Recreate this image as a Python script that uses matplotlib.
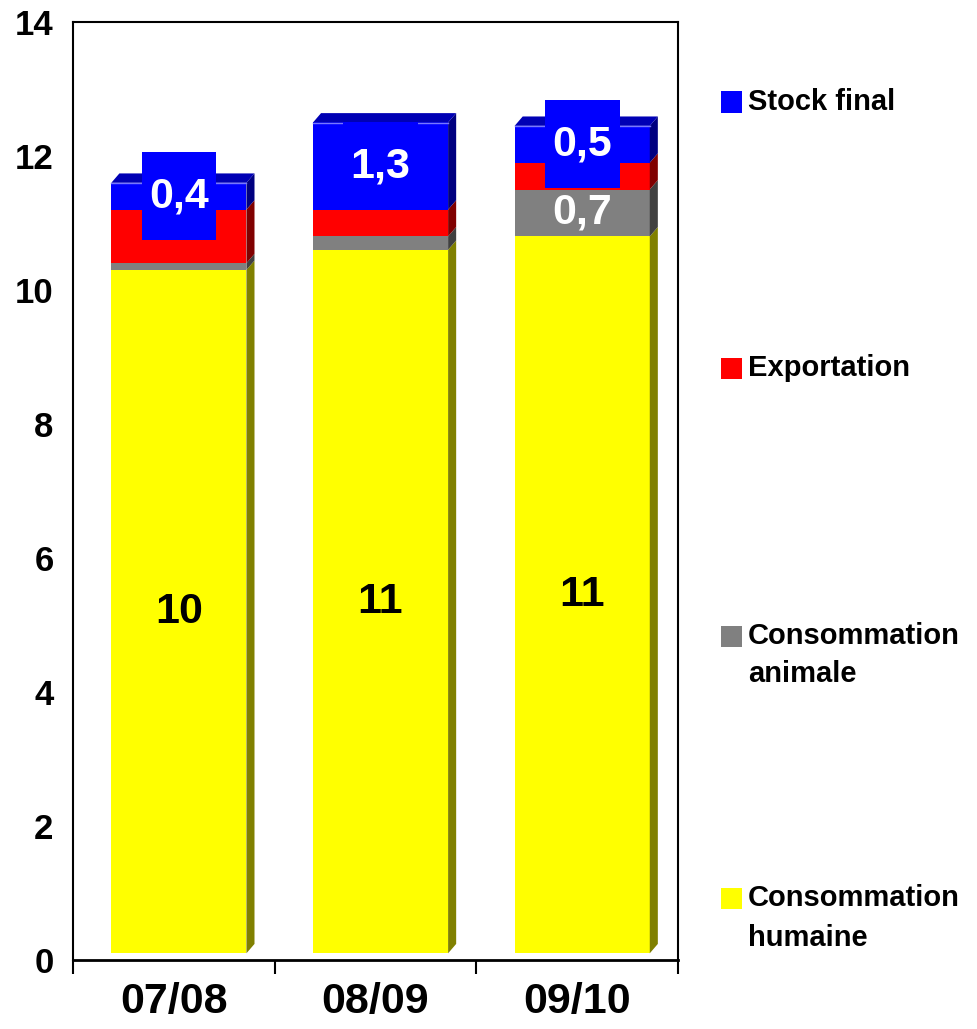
import matplotlib
matplotlib.use("Agg")
import matplotlib.pyplot as plt
from matplotlib.patches import Polygon, Rectangle

plt.rcParams["font.family"] = ["Liberation Sans", "DejaVu Sans"]
plt.rcParams["font.weight"] = "bold"

# -*- data (millions t)
campagnes = ["07/08", "08/09", "09/10"]
conso_humaine = [10.2, 10.5, 10.7]
conso_animale = [0.1, 0.2, 0.7]
exportation = [0.8, 0.4, 0.4]
stock_final = [0.4, 1.3, 0.55]

lab_humaine = ["10", "11", "11"]
lab_animale = ["", "", "0,7"]
lab_stock = ["0,4", "1,3", "0,5"]

series = [
    ("Consommation\nhumaine", conso_humaine, "#FFFF00", "#808000"),
    ("Consommation\nanimale", conso_animale, "#808080", "#404040"),
    ("Exportation", exportation, "#FF0000", "#800000"),
    ("Stock final", stock_final, "#0000FF", "#000080"),
]

# 3D look
base = 0.1      # front face sits a bit above the floor
dx, dy = 0.04, 0.14
width = 0.67
shift = 0.025

fig = plt.figure(figsize=(9.78, 10.29), dpi=100)
ax = fig.add_axes([73 / 978, 69 / 1029, 605 / 978, 938 / 1029])

xs = [i + shift for i in range(len(campagnes))]
bottoms = [base] * len(campagnes)
for name, vals, col, side in series:
    ax.bar(xs, vals, width, bottom=bottoms, color=col, linewidth=0, zorder=2)
    for x, b, v in zip(xs, bottoms, vals):
        xr = x + width / 2
        ax.add_patch(Polygon([(xr, b), (xr + dx, b + dy), (xr + dx, b + v + dy), (xr, b + v)],
                             closed=True, facecolor=side, edgecolor="none", zorder=2))
    bottoms = [b + v for b, v in zip(bottoms, vals)]

# top faces
for x, t in zip(xs, bottoms):
    xl, xr = x - width / 2, x + width / 2
    ax.add_patch(Polygon([(xl, t), (xl + dx, t + dy), (xr + dx, t + dy), (xr, t)],
                         closed=True, facecolor="#0000B4", edgecolor="none", zorder=2))
    ax.plot([xl, xr], [t, t], color="#7878FF", lw=1, zorder=3)

# data labels
for i, x in enumerate(xs):
    h = conso_humaine[i]
    ax.text(x, base + h / 2, lab_humaine[i], ha="center", va="center",
            fontsize=31, fontweight="bold", color="black", zorder=5)
    if lab_animale[i]:
        ax.text(x, base + h + conso_animale[i] / 2, lab_animale[i], ha="center", va="center",
                fontsize=31, fontweight="bold", color="white", zorder=5)
    ymid = base + h + conso_animale[i] + exportation[i] + stock_final[i] / 2
    bw, bh = 0.37, 1.31
    ax.add_patch(Rectangle((x - bw / 2, ymid - bh / 2), bw, bh, facecolor="#0000FF",
                           edgecolor="none", zorder=4))
    ax.text(x, ymid, lab_stock[i], ha="center", va="center",
            fontsize=31, fontweight="bold", color="white", zorder=5)

ax.set_xlim(-0.5, 2.5)
ax.set_ylim(0, 14)
ax.set_yticks(range(0, 15, 2))
ax.tick_params(axis="y", length=0, pad=14, labelsize=25)
ax.set_xticks(range(len(campagnes)))
ax.set_xticklabels(campagnes, fontsize=31, fontweight="bold")
ax.set_xticks([-0.5, 0.5, 1.5, 2.5], minor=True)
ax.tick_params(axis="x", which="major", length=0, pad=16)
ax.tick_params(axis="x", which="minor", length=10, width=1.5, direction="out")
for lab in ax.get_yticklabels():
    lab.set_fontweight("bold")
for s in ["top", "right", "left"]:
    ax.spines[s].set_linewidth(1.5)
ax.spines["bottom"].set_linewidth(2)

# legend on the right
leg_y = [102, 368, 655, 918]
leg_first = [102, 368, 636, 898]
for (name, vals, col, side), yc, ym in zip(reversed(series), leg_y, leg_first):
    fig.patches.append(Rectangle((721 / 978, 1 - (ym + 10.5) / 1029), 21 / 978, 21 / 1029,
                                 transform=fig.transFigure, facecolor=col, edgecolor="none"))
    fig.text(748 / 978, 1 - yc / 1029, name, ha="left", va="center", fontsize=21,
             fontweight="bold", linespacing=1.5)

fig.savefig("out.png", dpi=100)
